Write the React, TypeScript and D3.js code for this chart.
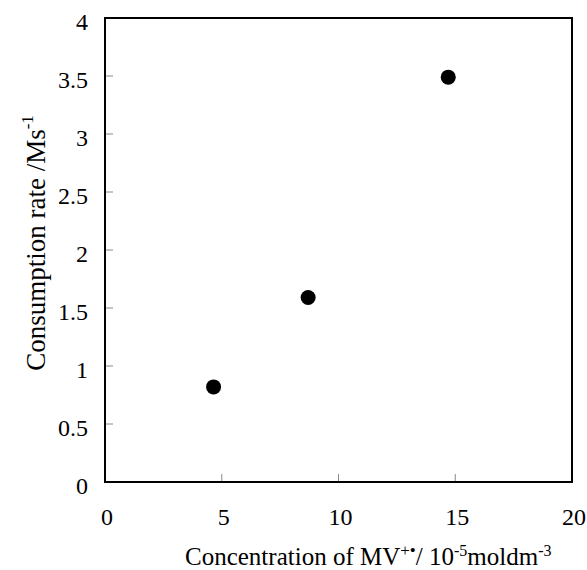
import React, { useRef, useEffect } from 'react';
import * as d3 from 'd3';

const concentration = [4.65, 8.7, 14.7];
const rate = [0.82, 1.59, 3.49];
const xTicks = [0, 5, 10, 15, 20];
const yTicks = [0, 0.5, 1, 1.5, 2, 2.5, 3, 3.5, 4];

const App = () => {
    const ref = useRef<SVGSVGElement>(null);

    useEffect(() => {
        if (!ref.current) return;
        const svg = d3.select(ref.current);
        svg.selectAll('*').remove();

        const left = 105, right = 572, top = 18, bottom = 482;
        const font = 'Liberation Serif, Times New Roman, serif';

        const x = d3.scaleLinear().domain([0, 20]).range([left, right]);
        const y = d3.scaleLinear().domain([0, 4]).range([bottom, top]);

        // inward tick marks
        svg.append('g').selectAll('line')
            .data(xTicks.slice(1, -1))
            .join('line')
            .attr('x1', d => x(d)).attr('x2', d => x(d))
            .attr('y1', bottom).attr('y2', bottom - 8)
            .attr('stroke', '#888').attr('stroke-width', 1);
        svg.append('g').selectAll('line')
            .data(yTicks.slice(1, -1))
            .join('line')
            .attr('x1', left).attr('x2', left + 8)
            .attr('y1', d => y(d)).attr('y2', d => y(d))
            .attr('stroke', '#888').attr('stroke-width', 1);

        // frame
        svg.append('rect')
            .attr('x', left).attr('y', top)
            .attr('width', right - left).attr('height', bottom - top)
            .attr('fill', 'none').attr('stroke', '#000').attr('stroke-width', 2);

        // tick labels
        svg.append('g').selectAll('text')
            .data(yTicks)
            .join('text')
            .attr('x', left - 17).attr('y', d => y(d) + 12)
            .attr('text-anchor', 'end')
            .style('font-family', font).style('font-size', '24px')
            .text(d => d);
        svg.append('g').selectAll('text')
            .data(xTicks)
            .join('text')
            .attr('x', d => x(d) + 2).attr('y', bottom + 43)
            .attr('text-anchor', 'middle')
            .style('font-family', font).style('font-size', '24px')
            .text(d => d);

        // points
        svg.append('g').selectAll('circle')
            .data(concentration)
            .join('circle')
            .attr('cx', d => x(d))
            .attr('cy', (d, i) => y(rate[i]))
            .attr('r', 7.5)
            .attr('fill', '#000');

        // x title
        const xt = svg.append('text')
            .attr('x', 185).attr('y', 565)
            .attr('text-anchor', 'start')
            .style('font-family', font).style('font-size', '25px');
        xt.append('tspan').text('Concentration of MV');
        xt.append('tspan').attr('dy', -9).style('font-size', '17px').text('+•');
        xt.append('tspan').attr('dy', 9).text('/ 10');
        xt.append('tspan').attr('dy', -9).style('font-size', '16px').text('-5');
        xt.append('tspan').attr('dy', 9).text('moldm');
        xt.append('tspan').attr('dy', -9).style('font-size', '16px').text('-3');

        // y title
        const yt = svg.append('text')
            .attr('transform', 'translate(45,243) rotate(-90)')
            .attr('text-anchor', 'middle')
            .style('font-family', font).style('font-size', '27px');
        yt.append('tspan').text('Consumption rate /Ms');
        yt.append('tspan').attr('dy', -12).style('font-size', '17px').text('-1');
    }, []);

    return (
        <svg ref={ref} width={587} height={570}
            style={{ position: 'absolute', left: 0, top: 0, background: '#fff' }} />
    );
};

export default App;
